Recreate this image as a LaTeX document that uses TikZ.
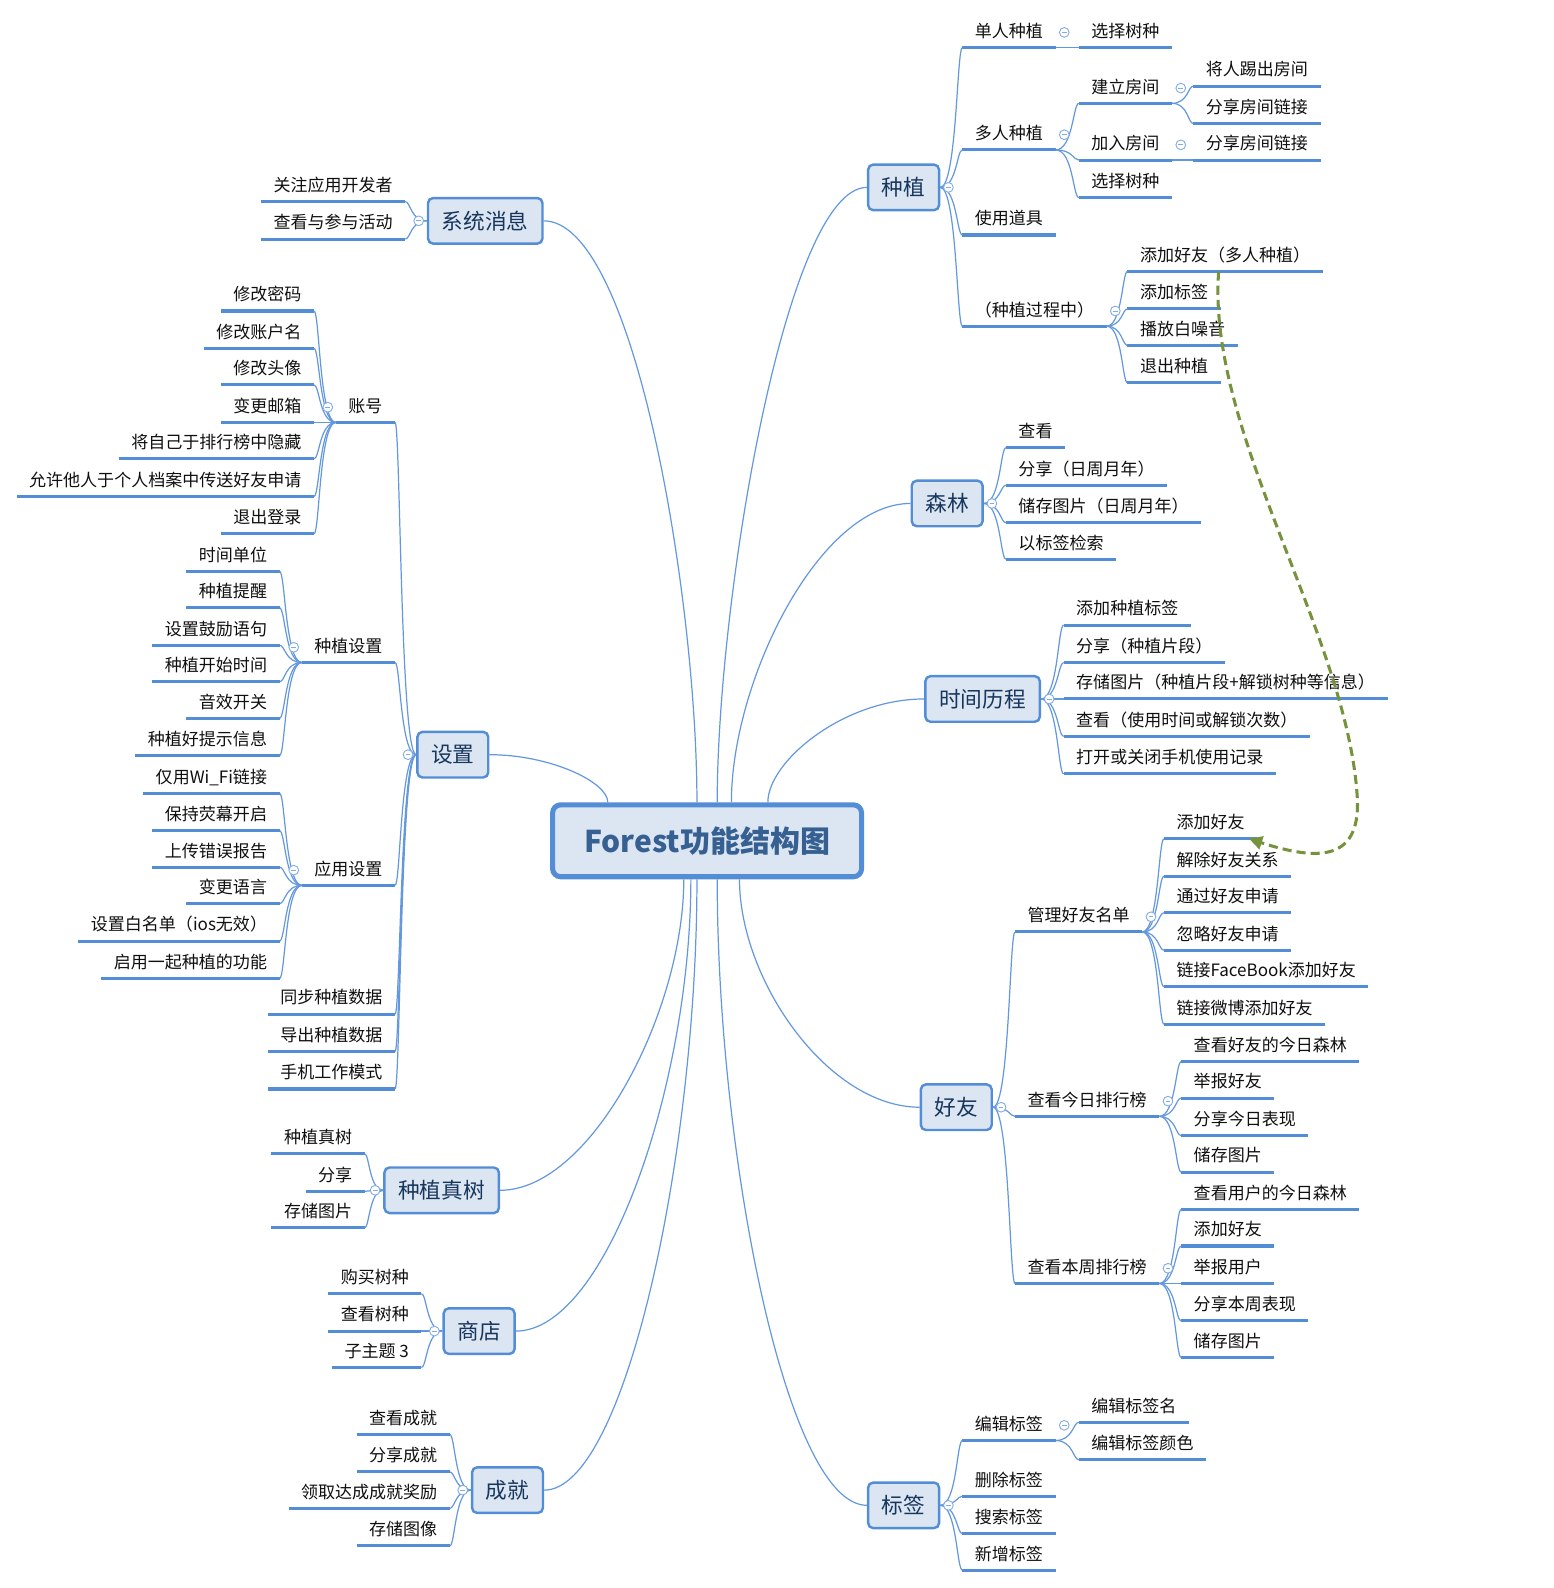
\documentclass[tikz,border=0pt]{standalone}
\usepackage{fontspec}
\setmainfont{Noto Sans CJK SC}
\usetikzlibrary{arrows.meta,calc}
\definecolor{ulcol}{RGB}{83,141,213}
\definecolor{cncol}{RGB}{100,152,222}
\definecolor{bxfill}{RGB}{220,230,242}
\definecolor{bxline}{RGB}{83,141,213}
\definecolor{tpcol}{RGB}{23,54,93}
\definecolor{ctcol}{RGB}{54,96,146}
\definecolor{mkcol}{RGB}{130,172,228}
\definecolor{grn}{RGB}{118,146,60}
\definecolor{lfcol}{RGB}{15,15,15}
\tikzset{
  uline/.style={draw=ulcol, line width=1.5pt},
  leaf/.style={font=\fontsize{8.4}{10}\selectfont, text=lfcol, inner xsep=6pt, inner ysep=4.8pt,
    text height=7.4pt, text depth=0pt,
    append after command={(\tikzlastnode.south west) edge[uline] (\tikzlastnode.south east)}},
  leafR/.style={leaf, anchor=south west},
  leafL/.style={leaf, anchor=south east},
  topic/.style={draw=bxline, fill=bxfill, line width=1.2pt, rounded corners=2.5pt,
    font=\fontsize{10.7}{12}\selectfont, text=tpcol, minimum height=22.5pt, inner sep=0pt,
    text height=9.4pt, text depth=1.3pt},
  tA/.style={topic, minimum width=35pt},
  tB/.style={topic, minimum width=56.5pt},
  central/.style={draw=bxline, fill=bxfill, line width=2.5pt, rounded corners=4pt,
    font=\fontsize{14.8}{16}\selectfont\bfseries, text=ctcol, minimum width=152.5pt,
    minimum height=35.5pt, inner sep=0pt, text height=13pt, text depth=1.8pt},
  conn/.style={draw=cncol, line width=0.6pt},
  mk/.style={circle, draw=mkcol, fill=white, line width=0.45pt, minimum size=4.8pt, inner sep=0pt,
    path picture={\draw[mkcol, line width=0.45pt] ([xshift=-1.2pt]path picture bounding box.center) -- ([xshift=1.2pt]path picture bounding box.center);}},
  greenlink/.style={draw=grn, line width=1.5pt, dash pattern=on 4.5pt off 2.5pt,
    -{Triangle[length=6.5pt,width=6.5pt]}},
}
\newcommand\mmc[3][0.75]{\path[conn] let \p1=(#2), \p2=(#3) in (\p1) .. controls ({\x1+#1*(\x2-\x1)},\y1) and ({\x1+#1*(\x2-\x1)},\y2) .. (\p2);}
\begin{document}
\begin{tikzpicture}[x=0.5pt,y=-0.5pt]
\useasboundingbox (0,0) rectangle (1553,1588);
\begin{scope}[transform canvas={scale=1.013}]
% central
\node[central] (ctr) at (698,830) {Forest功能结构图};
% ---------- right: 种植
\node[tA] (zz) at (892,185) {种植};
\node[leafR] (a1) at (950,47) {单人种植};
\node[leafR] (a11) at (1065,47) {选择树种};
\node[leafR] (a2) at (950,148) {多人种植};
\node[leafR] (a21) at (1065,102) {建立房间};
\node[leafR] (a211) at (1178,85) {将人踢出房间};
\node[leafR] (a212) at (1178,122) {分享房间链接};
\node[leafR] (a22) at (1065,158) {加入房间};
\node[leafR] (a221) at (1178,158) {分享房间链接};
\node[leafR] (a23) at (1065,195) {选择树种};
\node[leafR] (a3) at (950,232) {使用道具};
\node[leafR] (a4) at (950,322) {（种植过程中）};
\node[leafR] (a41) at (1113,268) {添加好友（多人种植）};
\node[leafR] (a42) at (1113,305) {添加标签};
\node[leafR] (a43) at (1113,341) {播放白噪音};
\node[leafR] (a44) at (1113,378) {退出种植};
% ---------- 森林
\node[tA] (sl) at (935,497) {森林};
\node[leafR] (b1) at (993,442) {查看};
\node[leafR] (b2) at (993,479) {分享（日周月年）};
\node[leafR] (b3) at (993,516) {储存图片（日周月年）};
\node[leafR] (b4) at (993,552) {以标签检索};
% ---------- 时间历程
\node[tB] (sj) at (970,690) {时间历程};
\node[leafR] (c1) at (1050,617) {添加种植标签};
\node[leafR] (c2) at (1050,654) {分享（种植片段）};
\node[leafR] (c3) at (1050,690) {存储图片（种植片段+解锁树种等信息）};
\node[leafR] (c4) at (1050,727) {查看（使用时间或解锁次数）};
\node[leafR] (c5) at (1050,764) {打开或关闭手机使用记录};
% ---------- 好友
\node[tA] (hy) at (944,1093) {好友};
\node[leafR] (d1) at (1002,920) {管理好友名单};
\node[leafR] (d11) at (1149,828) {添加好友};
\node[leafR] (d12) at (1149,865) {解除好友关系};
\node[leafR] (d13) at (1149,901) {通过好友申请};
\node[leafR] (d14) at (1149,938) {忽略好友申请};
\node[leafR] (d15) at (1149,974) {链接FaceBook添加好友};
\node[leafR] (d16) at (1149,1011) {链接微博添加好友};
\node[leafR] (d2) at (1002,1102) {查看今日排行榜};
\node[leafR] (d21) at (1166,1048) {查看好友的今日森林};
\node[leafR] (d22) at (1166,1084) {举报好友};
\node[leafR] (d23) at (1166,1121) {分享今日表现};
\node[leafR] (d24) at (1166,1157) {储存图片};
\node[leafR] (d3) at (1002,1267) {查看本周排行榜};
\node[leafR] (d31) at (1166,1194) {查看用户的今日森林};
\node[leafR] (d32) at (1166,1230) {添加好友};
\node[leafR] (d33) at (1166,1267) {举报用户};
\node[leafR] (d34) at (1166,1304) {分享本周表现};
\node[leafR] (d35) at (1166,1340) {储存图片};
% ---------- 标签
\node[tA] (bq) at (892,1486) {标签};
\node[leafR] (e1) at (950,1422) {编辑标签};
\node[leafR] (e11) at (1065,1404) {编辑标签名};
\node[leafR] (e12) at (1065,1441) {编辑标签颜色};
\node[leafR] (e2) at (950,1477) {删除标签};
\node[leafR] (e3) at (950,1514) {搜索标签};
\node[leafR] (e4) at (950,1550) {新增标签};
% ---------- left: 系统消息
\node[tB] (xt) at (479,218) {系统消息};
\node[leafL] (f1) at (400,199) {关注应用开发者};
\node[leafL] (f2) at (400,236) {查看与参与活动};
% ---------- 设置
\node[tA] (sz) at (447,745) {设置};
\node[leafL] (g1) at (390,417) {账号};
\node[leafL] (g11) at (310,307) {修改密码};
\node[leafL] (g12) at (310,344) {修改账户名};
\node[leafL] (g13) at (310,380) {修改头像};
\node[leafL] (g14) at (310,417) {变更邮箱};
\node[leafL] (g15) at (310,453) {将自己于排行榜中隐藏};
\node[leafL] (g16) at (310,490) {允许他人于个人档案中传送好友申请};
\node[leafL] (g17) at (310,527) {退出登录};
\node[leafL] (g2) at (390,654) {种植设置};
\node[leafL] (g21) at (276,564) {时间单位};
\node[leafL] (g22) at (276,600) {种植提醒};
\node[leafL] (g23) at (276,637) {设置鼓励语句};
\node[leafL] (g24) at (276,673) {种植开始时间};
\node[leafL] (g25) at (276,709) {音效开关};
\node[leafL] (g26) at (276,746) {种植好提示信息};
\node[leafL] (g3) at (390,874) {应用设置};
\node[leafL] (g31) at (276,783) {仅用Wi\_Fi链接};
\node[leafL] (g32) at (276,820) {保持荧幕开启};
\node[leafL] (g33) at (276,856) {上传错误报告};
\node[leafL] (g34) at (276,892) {变更语言};
\node[leafL] (g35) at (276,929) {设置白名单（ios无效）};
\node[leafL] (g36) at (276,966) {启用一起种植的功能};
\node[leafL] (g4) at (390,1001) {同步种植数据};
\node[leafL] (g5) at (390,1038) {导出种植数据};
\node[leafL] (g6) at (390,1075) {手机工作模式};
% ---------- 种植真树
\node[tB] (zs) at (436,1175) {种植真树};
\node[leafL] (h1) at (360,1139) {种植真树};
\node[leafL] (h2) at (360,1176) {分享};
\node[leafL] (h3) at (360,1212) {存储图片};
% ---------- 商店
\node[tA] (sd) at (473,1314) {商店};
\node[leafL] (i1) at (416,1277) {购买树种};
\node[leafL] (i2) at (416,1314) {查看树种};
\node[leafL] (i3) at (416,1350) {子主题 3};
% ---------- 成就
\node[tA] (cj) at (501,1471) {成就};
\node[leafL] (j1) at (444,1416) {查看成就};
\node[leafL] (j2) at (444,1453) {分享成就};
\node[leafL] (j3) at (444,1489) {领取达成成就奖励};
\node[leafL] (j4) at (444,1526) {存储图像};

% central connectors
\draw[conn] ([xshift=-5pt]ctr.north) .. controls +(0,-200) and +(90,0) .. (xt.east);
\draw[conn] ([xshift=-49pt]ctr.north) .. controls +(0,-20) and +(60,0) .. (sz.east);
\draw[conn] ([xshift=5pt]ctr.north) .. controls +(0,-200) and +(-80,0) .. (zz.west);
\draw[conn] ([xshift=12pt]ctr.north) .. controls +(0,-120) and +(-90,0) .. (sl.west);
\draw[conn] ([xshift=30pt]ctr.north) .. controls +(0,-40) and +(-80,0) .. (sj.west);
\draw[conn] ([xshift=-11.5pt]ctr.south) .. controls +(0,130) and +(90,0) .. (zs.east);
\draw[conn] ([xshift=-8pt]ctr.south) .. controls +(0,200) and +(90,0) .. (sd.east);
\draw[conn] ([xshift=-5pt]ctr.south) .. controls +(0,270) and +(80,0) .. (cj.east);
\draw[conn] ([xshift=5pt]ctr.south) .. controls +(0,270) and +(-80,0) .. (bq.west);
\draw[conn] ([xshift=16pt]ctr.south) .. controls +(0,100) and +(-90,0) .. (hy.west);
% right trees
\foreach \c in {a1,a2,a3,a4} {\mmc{zz.east}{\c.south west}}
\mmc{a1.south east}{a11.south west}
\foreach \c in {a21,a22,a23} {\mmc{a2.south east}{\c.south west}}
\foreach \c in {a211,a212} {\mmc{a21.south east}{\c.south west}}
\mmc{a22.south east}{a221.south west}
\foreach \c in {a41,a42,a43,a44} {\mmc{a4.south east}{\c.south west}}
\foreach \c in {b1,b2,b3,b4} {\mmc{sl.east}{\c.south west}}
\foreach \c in {c1,c2,c3,c4,c5} {\mmc{sj.east}{\c.south west}}
\foreach \c in {d1,d2,d3} {\mmc{hy.east}{\c.south west}}
\foreach \c in {d11,d12,d13,d14,d15,d16} {\mmc{d1.south east}{\c.south west}}
\foreach \c in {d21,d22,d23,d24} {\mmc{d2.south east}{\c.south west}}
\foreach \c in {d31,d32,d33,d34,d35} {\mmc{d3.south east}{\c.south west}}
\foreach \c in {e1,e2,e3,e4} {\mmc{bq.east}{\c.south west}}
\foreach \c in {e11,e12} {\mmc{e1.south east}{\c.south west}}
% left trees
\foreach \c in {f1,f2} {\mmc{xt.west}{\c.south east}}
\foreach \c in {g1,g2,g3,g4,g5,g6} {\mmc{sz.west}{\c.south east}}
\foreach \c in {g11,g12,g13,g14,g15,g16,g17} {\mmc{g1.south west}{\c.south east}}
\foreach \c in {g21,g22,g23,g24,g25,g26} {\mmc{g2.south west}{\c.south east}}
\foreach \c in {g31,g32,g33,g34,g35,g36} {\mmc{g3.south west}{\c.south east}}
\foreach \c in {h1,h2,h3} {\mmc{zs.west}{\c.south east}}
\foreach \c in {i1,i2,i3} {\mmc{sd.west}{\c.south east}}
\foreach \c in {j1,j2,j3,j4} {\mmc{cj.west}{\c.south east}}

% collapse markers
\foreach \b in {zz,sl,sj,hy,bq} {\node[mk] (m\b) at ([xshift=4pt]\b.east) {};}
\foreach \b in {xt,sz,zs,sd,cj} {\node[mk] (m\b) at ([xshift=-4pt]\b.west) {};}
\foreach \b in {a1,a2,a21,a22,a4,d1,d2,d3,e1} {\node[mk] (m\b) at ([xshift=4.3pt,yshift=7.5pt]\b.south east) {};}
\foreach \b in {g1,g2,g3} {\node[mk] (m\b) at ([xshift=-4pt,yshift=7.5pt]\b.south west) {};}

% green dashed relationship
\coordinate (gs) at ([xshift=45pt]a41.south west);
\draw[greenlink] (gs) .. controls +(-12,160) and +(-8,-160) .. (1340,790)
  .. controls +(2,60) and +(68,22) .. ([xshift=-4pt]d11.south east);
\end{scope}
\end{tikzpicture}
\end{document}
